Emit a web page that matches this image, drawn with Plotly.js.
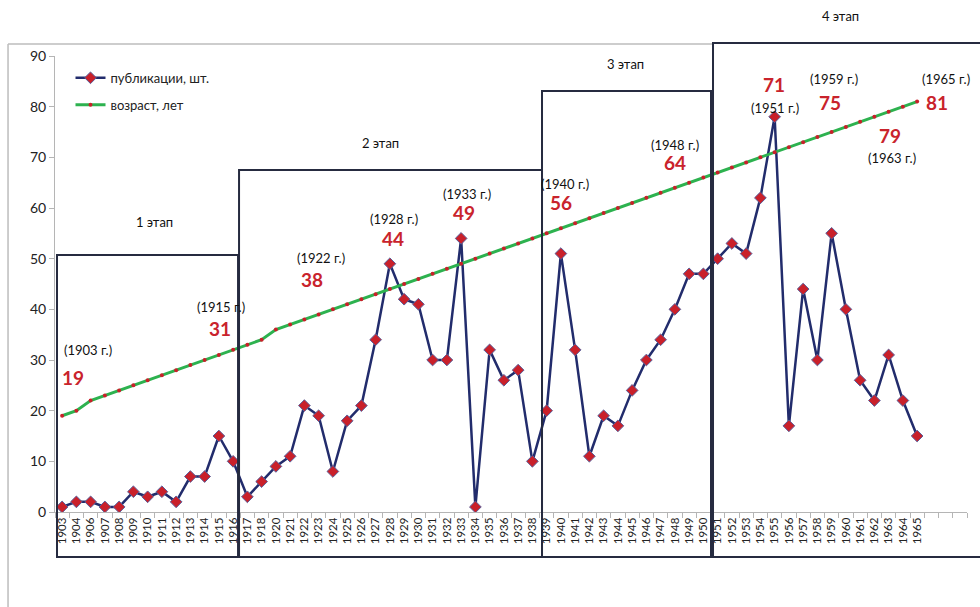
<!DOCTYPE html>
<html>
<head>
<meta charset="utf-8">
<script src="https://cdn.plot.ly/plotly-3.0.1.min.js"></script>
<style>html,body{margin:0;padding:0;background:#fff;}#chart{width:980px;height:607px;}</style>
</head>
<body>
<div id="chart"></div>
<script>
const years = ["1903","1904","1906","1907","1908","1909","1910","1911","1912","1913","1914","1915","1916","1917","1918","1920","1921","1922","1923","1924","1925","1926","1927","1928","1929","1930","1931","1932","1933","1934","1935","1936","1937","1938","1939","1940","1941","1942","1943","1944","1945","1946","1947","1948","1949","1950","1951","1952","1953","1954","1955","1956","1957","1958","1959","1960","1961","1962","1963","1964","1965"];
const padCategories = [" ", "  ", "   "];
const publications = [1,2,2,1,1,4,3,4,2,7,7,15,10,3,6,9,11,21,19,8,18,21,34,49,42,41,30,30,54,1,32,26,28,10,20,51,32,11,19,17,24,30,34,40,47,47,50,53,51,62,78,17,44,30,55,40,26,22,31,22,15];
const age = [19,20,22,23,24,25,26,27,28,29,30,31,32,33,34,36,37,38,39,40,41,42,43,44,45,46,47,48,49,50,51,52,53,54,55,56,57,58,59,60,61,62,63,64,65,66,67,68,69,70,71,72,73,74,75,76,77,78,79,80,81];
const yTicks = [0,10,20,30,40,50,60,70,80,90];
const stageLabels = ["1 этап","2 этап","3 этап","4 этап"];
const pointNotes = [
  {year:"(1903 г.)", value:"19"},
  {year:"(1915 г.)", value:"31"},
  {year:"(1922 г.)", value:"38"},
  {year:"(1928 г.)", value:"44"},
  {year:"(1933 г.)", value:"49"},
  {year:"(1940 г.)", value:"56"},
  {year:"(1948 г.)", value:"64"},
  {year:"(1951 г.)", value:"71"},
  {year:"(1959 г.)", value:"75"},
  {year:"(1963 г.)", value:"79"},
  {year:"(1965 г.)", value:"81"}
];

// layout positions (paper coords) for notes: [yearX, yearY, valueX, valueY]
const notePos = [
  [0.036,0.355,0.020,0.294],
  [0.182,0.449,0.181,0.4035],
  [0.2917,0.5568,0.2818,0.5088],
  [0.3717,0.643,0.3706,0.600],
  [0.4518,0.698,0.4485,0.656],
  [0.559,0.720,0.555,0.678],
  [0.680,0.8056,0.680,0.7655],
  [0.7895,0.8862,0.7884,0.9384],
  [0.8542,0.9496,0.8498,0.8991],
  [0.9178,0.7765,0.9156,0.8266],
  [0.977,0.9496,0.9671,0.8991]
];
const stagePos = [[0.1096,0.636],[0.3564,0.809],[0.626,0.982],[0.861,1.0877]];
const boxes = [
  [0.0022,-0.0987,0.2007,0.5636],
  [0.2018,-0.0987,0.534,0.75],
  [0.534,-0.0987,0.7193,0.9232],
  [0.7215,-0.0987,1.03,1.0285]
];

const FONT = "Lato, 'Open Sans', 'Liberation Sans', sans-serif";

const traces = [
  {
    x: years, y: publications, type: "scatter", mode: "lines+markers",
    name: "публикации, шт.", legendgroup: "a",
    line: {color: "#222c6c", width: 2.5},
    marker: {symbol: "diamond", size: 9, color: "#c9202a", line: {color: "#5a5f9a", width: 1}}
  },
  {
    x: years, y: age, type: "scatter", mode: "lines+markers",
    name: "возраст, лет", legendgroup: "b",
    line: {color: "#2db24f", width: 3},
    marker: {symbol: "circle", size: 4, color: "#c9202a"}
  },
  {
    x: padCategories, y: padCategories.map(() => null), type: "scatter", mode: "markers",
    showlegend: false, hoverinfo: "skip"
  }
];

const annotations = [];
pointNotes.forEach((n, i) => {
  const p = notePos[i];
  annotations.push({xref:"paper", yref:"paper", x:p[0], y:p[1], text:n.year, showarrow:false,
    xanchor:"center", yanchor:"middle", font:{family:FONT, size:13, color:"#111"}});
  annotations.push({xref:"paper", yref:"paper", x:p[2], y:p[3], text:"<b>"+n.value+"</b>", showarrow:false,
    xanchor:"center", yanchor:"middle", font:{family:FONT, size:19, color:"#c9232c"}});
});
stageLabels.forEach((s, i) => {
  annotations.push({xref:"paper", yref:"paper", x:stagePos[i][0], y:stagePos[i][1], text:s, showarrow:false,
    xanchor:"center", yanchor:"middle", font:{family:FONT, size:13, color:"#111"}});
});

const shapes = [
  {type:"line", xref:"paper", yref:"paper", x0:-0.0515, x1:0.7215, y0:1.0263, y1:1.0263, line:{color:"#bdbdbd", width:1.5}},
  {type:"line", xref:"paper", yref:"paper", x0:-0.0515, x1:-0.0515, y0:1.0263, y1:-0.25, line:{color:"#bdbdbd", width:1.5}}
];
boxes.forEach(b => shapes.push({type:"rect", xref:"paper", yref:"paper", x0:b[0], y0:b[1], x1:b[2], y1:b[3],
  line:{color:"#262b40", width:2}, fillcolor:"rgba(0,0,0,0)"}));

const layout = {
  width: 980, height: 607,
  margin: {l: 55, r: 13, t: 56, b: 95},
  paper_bgcolor: "#fff", plot_bgcolor: "#fff",
  font: {family: FONT, color: "#222"},
  showlegend: true,
  legend: {x: 0.017, y: 0.985, xanchor: "left", yanchor: "top", bgcolor: "rgba(0,0,0,0)",
    font: {family: FONT, size: 13, color: "#222"}, tracegroupgap: 7, traceorder: "grouped"},
  xaxis: {
    type: "category", categoryorder: "array", categoryarray: years.concat(padCategories),
    range: [-0.5, years.length + padCategories.length - 0.5],
    tickangle: -90, tickson: "boundaries", ticks: "outside", ticklen: 5, tickcolor: "#b5b5b5",
    showline: true, linecolor: "#b5b5b5", linewidth: 1, showgrid: false, zeroline: false,
    tickfont: {family: FONT, size: 11.5, color: "#222"}, fixedrange: true
  },
  yaxis: {
    range: [0, 90], tickvals: yTicks, ticks: "outside", ticklen: 5, tickcolor: "#b5b5b5",
    showline: true, linecolor: "#b5b5b5", linewidth: 1, showgrid: false, zeroline: false,
    tickfont: {family: FONT, size: 14, color: "#222"}, fixedrange: true
  },
  annotations: annotations,
  shapes: shapes
};

Plotly.newPlot("chart", traces, layout, {displayModeBar: false, staticPlot: true});
</script>
</body>
</html>
